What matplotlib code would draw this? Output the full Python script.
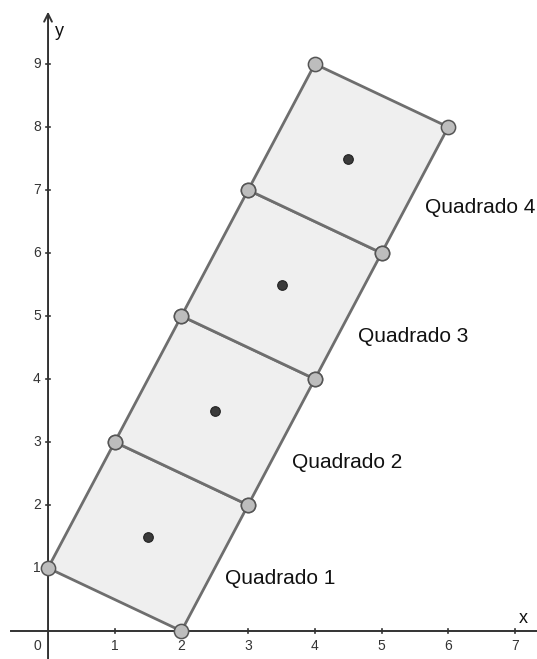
import matplotlib
matplotlib.use('Agg')
import matplotlib.pyplot as plt
from matplotlib.patches import Polygon

# Vertices of each square (counter-clockwise)
square_names = ['Quadrado 1', 'Quadrado 2', 'Quadrado 3', 'Quadrado 4']
square_x = [[0, 2, 3, 1], [1, 3, 4, 2], [2, 4, 5, 3], [3, 5, 6, 4]]
square_y = [[1, 0, 2, 3], [3, 2, 4, 5], [5, 4, 6, 7], [7, 6, 8, 9]]
center_x = [1.5, 2.5, 3.5, 4.5]
center_y = [1.5, 3.5, 5.5, 7.5]
label_x = [2.65, 3.65, 4.65, 5.65]
label_y = [0.84, 2.68, 4.67, 6.73]
x_ticks = [1, 2, 3, 4, 5, 6, 7]
y_ticks = [1, 2, 3, 4, 5, 6, 7, 8, 9]

fig = plt.figure(figsize=(5.37, 6.59), dpi=100)
ax = fig.add_axes([0, 0, 1, 1])
ax.set_xlim(-0.72, 7.33)
ax.set_ylim(-0.444, 10.016)
ax.axis('off')

axis_col = '#333333'
tick_font = dict(fontsize=10, family='Liberation Sans', color='#333333')
# axes lines
ax.plot([-0.55, 7.33], [0, 0], color=axis_col, lw=1.4, zorder=1)
ax.annotate('', xy=(0, 9.83), xytext=(0, -0.45),
            arrowprops=dict(arrowstyle='->', color=axis_col, lw=1.4,
                            mutation_scale=14, shrinkA=0, shrinkB=0), zorder=1)

# ticks
for t in x_ticks:
    ax.plot([t, t], [-0.035, 0.035], color=axis_col, lw=1.2, zorder=1)
    ax.text(t, -0.12, str(t), ha='center', va='top', **tick_font)
for t in y_ticks:
    ax.plot([-0.035, 0.035], [t, t], color=axis_col, lw=1.2, zorder=1)
    ax.text(-0.11, t, str(t), ha='right', va='center', **tick_font)
ax.text(-0.1, -0.12, '0', ha='right', va='top', **tick_font)
ax.text(7.05, 0.07, 'x', ha='left', va='bottom', fontsize=13,
        family='Liberation Sans', color='#111111')
ax.text(0.1, 9.52, 'y', ha='left', va='center', fontsize=13,
        family='Liberation Sans', color='#111111')

# squares
for xs, ys in zip(square_x, square_y):
    poly = Polygon(list(zip(xs, ys)), closed=True, facecolor='#efefef',
                   edgecolor='#6e6e6e', lw=2, zorder=2)
    ax.add_patch(poly)

# vertices
all_x = [x for xs in square_x for x in xs]
all_y = [y for ys in square_y for y in ys]
ax.scatter(all_x, all_y, s=105, facecolor='#bdbdbd', edgecolor='#555555',
           linewidth=1.1, zorder=4)

# centers
ax.scatter(center_x, center_y, s=48, facecolor='#3a3a3a', edgecolor='#222222',
           linewidth=0.8, zorder=4)

for name, lx, ly in zip(square_names, label_x, label_y):
    ax.text(lx, ly, name, ha='left', va='center', fontsize=15,
            family='Liberation Sans', color='#111111')

fig.savefig('out.png', dpi=100)
